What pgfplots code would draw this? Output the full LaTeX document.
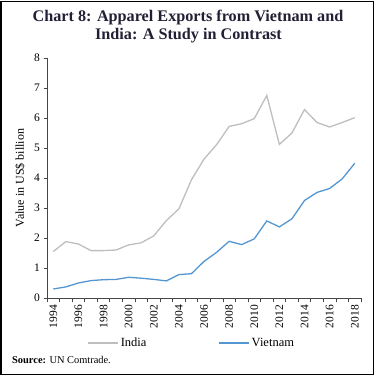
\documentclass[border=0pt]{standalone}
\usepackage{pgfplots}
\pgfplotsset{compat=1.18}
\usepackage{fontspec}
\setmainfont{Liberation Serif}
\definecolor{indiagray}{RGB}{190,190,190}
\definecolor{vnblue}{RGB}{84,150,210}
\definecolor{titlecol}{RGB}{35,31,52}
\definecolor{axcol}{RGB}{70,70,70}
\begin{document}
\begin{tikzpicture}
\path[use as bounding box] (0pt,0pt) rectangle (378pt,378pt);
\draw[line width=1.1pt] (1pt,3.5pt) rectangle (373.5pt,376.5pt);
\node[anchor=base,font=\fontsize{16.2}{19}\selectfont\bfseries,text=titlecol,inner sep=0pt] at (188pt,356.5pt) {Chart 8: Apparel Exports from Vietnam and};
\node[anchor=base,font=\fontsize{16.2}{19}\selectfont\bfseries,text=titlecol,inner sep=0pt] at (188.5pt,338.5pt) {India: A Study in Contrast};
\node[anchor=base west,font=\fontsize{10.4}{12}\selectfont,inner sep=0pt] at (12pt,15pt) {\textbf{Source:} UN Comtrade.};
\begin{axis}[
  at={(47pt,80pt)}, anchor=south west,
  scale only axis, width=314pt, height=240pt,
  xmin=1993.5, xmax=2018.5, ymin=0, ymax=8,
  axis x line*=bottom, axis y line*=left,
  axis line style={axcol, line width=0.6pt},
  xtick={1994,1996,...,2018},
  minor xtick={1993.5,1994.5,...,2018.5},
  ytick={0,1,...,8},
  major x tick style={draw=none},
  minor x tick style={axcol, line width=0.6pt},
  major y tick style={axcol, line width=0.6pt},
  tick align=outside,
  major tick length=3.5pt, minor tick length=4.5pt,
  x tick label style={rotate=90, anchor=east, font=\fontsize{11.5}{13}\selectfont},
  y tick label style={font=\fontsize{11.5}{13}\selectfont},
  /pgf/number format/assume math mode=true,
  /pgf/number format/1000 sep={},
  ylabel={Value in US\$ billion},
  every axis y label/.style={at={(axis description cs:-0.086,0.5)}, rotate=90, anchor=center, font=\fontsize{12}{14}\selectfont},
  legend columns=2,
  legend style={at={(0.461,-0.1875)}, anchor=center, draw=none, fill=none, font=\fontsize{12.5}{14}\selectfont,
    /tikz/every even column/.append style={column sep=70pt}},
  legend image code/.code={\draw[#1] (0pt,0pt) -- (30pt,0pt);},
]
\addplot[indiagray, line width=1.3pt] coordinates {
(1994,1.55) (1995,1.88) (1996,1.80) (1997,1.58) (1998,1.58) (1999,1.60)
(2000,1.77) (2001,1.84) (2002,2.07) (2003,2.58) (2004,2.97) (2005,3.94)
(2006,4.63) (2007,5.11) (2008,5.72) (2009,5.81) (2010,5.98) (2011,6.75)
(2012,5.12) (2013,5.50) (2014,6.28) (2015,5.85) (2016,5.70) (2017,5.85) (2018,6.01)};
\addlegendentry{India}
\addplot[vnblue, line width=1.3pt] coordinates {
(1994,0.30) (1995,0.37) (1996,0.50) (1997,0.58) (1998,0.61) (1999,0.62)
(2000,0.69) (2001,0.66) (2002,0.62) (2003,0.57) (2004,0.78) (2005,0.81)
(2006,1.22) (2007,1.52) (2008,1.89) (2009,1.78) (2010,1.97) (2011,2.57)
(2012,2.37) (2013,2.64) (2014,3.25) (2015,3.52) (2016,3.65) (2017,3.97) (2018,4.49)};
\addlegendentry{Vietnam}
\end{axis}
\end{tikzpicture}
\end{document}
